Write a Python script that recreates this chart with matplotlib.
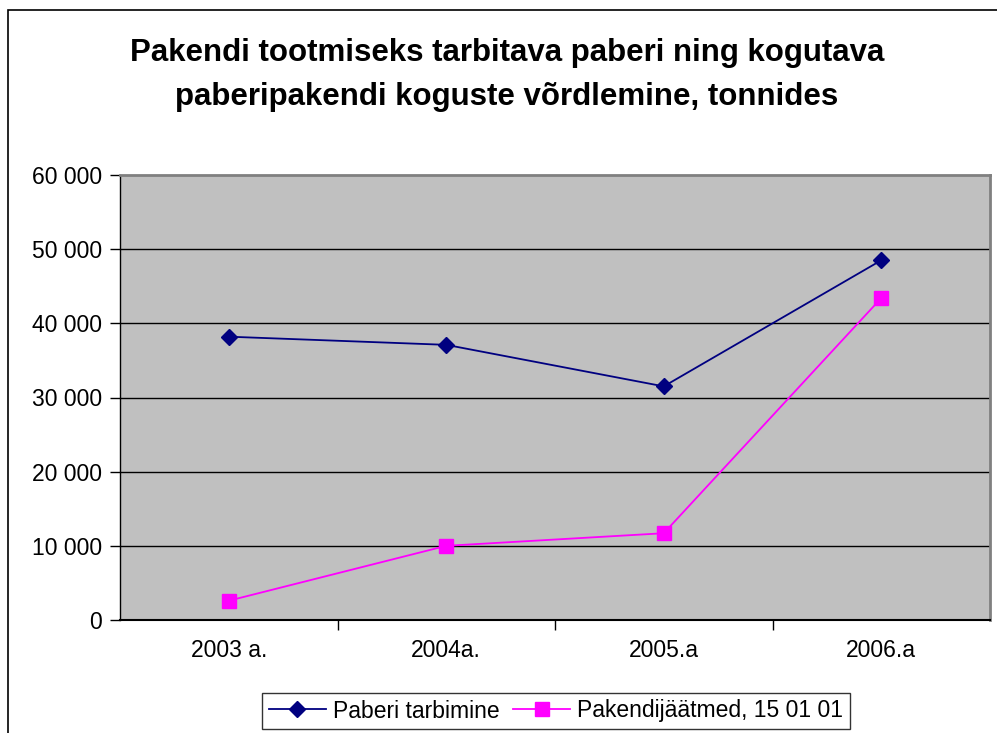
import matplotlib.pyplot as plt
from matplotlib.patches import Rectangle
from matplotlib.ticker import FuncFormatter, FixedLocator

years = ['2003 a.', '2004a.', '2005.a', '2006.a']
paberi_tarbimine = [38200, 37100, 31500, 48500]
pakendijaatmed = [2600, 10000, 11700, 43400]

plt.rcParams['font.family'] = ['Liberation Sans', 'DejaVu Sans']

W, H = 997, 733
fig = plt.figure(figsize=(W / 100, H / 100), dpi=100)

# outer chart border (clipped on right/bottom like the original)
fig.patches.append(Rectangle((8 / W, -0.05), 1.2, (H - 10) / H + 0.05,
                             transform=fig.transFigure, fill=False,
                             edgecolor='black', linewidth=1.2))

ax = fig.add_axes([120 / W, (H - 620) / H, 870 / W, 445 / H])
ax.set_facecolor('#C0C0C0')

x = list(range(len(years)))
ax.plot(x, paberi_tarbimine, color='#000080', marker='D', markersize=8,
        linewidth=1.3, label='Paberi tarbimine')
ax.plot(x, pakendijaatmed, color='#FF00FF', marker='s', markersize=10,
        linewidth=1.3, label='Pakendijäätmed, 15 01 01')

ax.set_xlim(-0.5, len(years) - 0.5)
ax.set_ylim(0, 60000)
ax.set_yticks(range(0, 60001, 10000))
ax.yaxis.set_major_formatter(FuncFormatter(lambda v, p: '{:,}'.format(int(v)).replace(',', ' ')))
for v in range(10000, 60000, 10000):
    ax.axhline(v, color='black', linewidth=1, zorder=1)

# category labels between boundary ticks
ax.set_xticks([i + 0.5 for i in x[:-1]])
ax.set_xticklabels([])
ax.xaxis.set_minor_locator(FixedLocator(x))
ax.set_xticklabels(years, minor=True)
ax.tick_params(axis='x', which='minor', length=0, pad=14, labelsize=16.5)
ax.tick_params(axis='x', which='major', length=7, direction='out', width=1)
ax.tick_params(axis='y', length=7, direction='out', width=1, labelsize=16.5, pad=6)

ax.spines['top'].set_color('#808080')
ax.spines['right'].set_color('#808080')
ax.spines['top'].set_linewidth(2)
ax.spines['right'].set_linewidth(2)
ax.spines['left'].set_linewidth(1)
ax.spines['bottom'].set_linewidth(1.5)

fig.text(507 / W, 1 - 75 / H,
         'Pakendi tootmiseks tarbitava paberi ning kogutava\npaberipakendi koguste võrdlemine, tonnides',
         ha='center', va='center', fontsize=22.5, fontweight='bold', linespacing=1.6)

leg = fig.legend(loc='center', bbox_to_anchor=(556 / W, 1 - 711 / H), ncol=2,
                 fontsize=16.5, frameon=True, fancybox=False, edgecolor='black',
                 numpoints=1, handlelength=2.5, columnspacing=0.6,
                 handletextpad=0.3, borderpad=0.3)
leg.get_frame().set_linewidth(1)

fig.savefig('out.png', dpi=100)
